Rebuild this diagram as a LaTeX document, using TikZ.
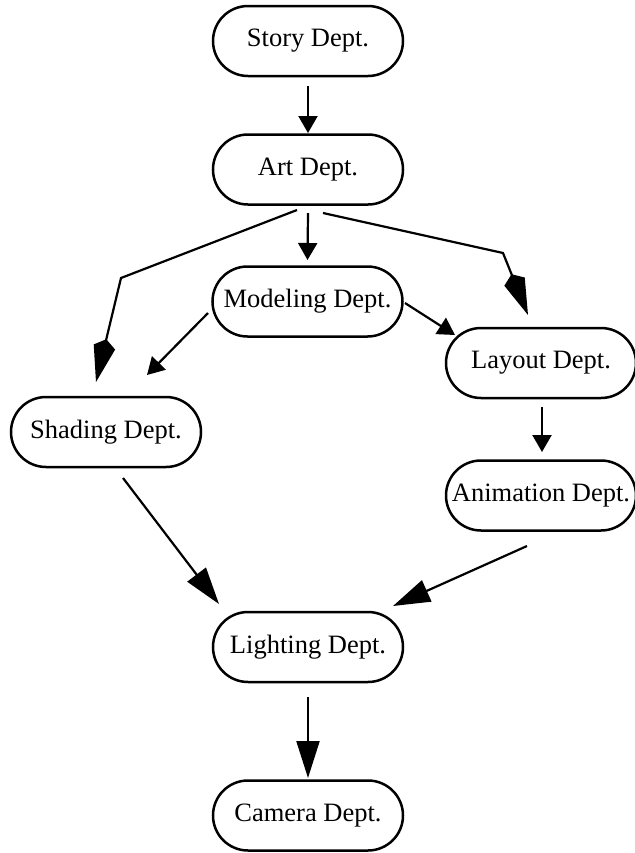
\documentclass[tikz,border=0pt]{standalone}
\usepackage{fontspec}
\setmainfont{Liberation Serif}
\usetikzlibrary{arrows.meta,calc}
\begin{document}
\begin{tikzpicture}[x=0.5pt,y=-0.5pt,
  dept/.style={draw,line width=1.25pt,rounded corners=17.5pt,minimum width=95pt,minimum height=35pt,inner sep=0pt,font=\fontsize{13.25}{15}\selectfont},
  conn/.style={line width=1.1pt},
  smallarrow/.style={conn,-{Triangle[length=8.5pt,width=9.5pt]}},
  bigarrow/.style={conn,-{Triangle[length=18.5pt,width=11.5pt]}},
  kitearrow/.style={conn,-{Kite[length=22pt,width=11pt,inset=4pt]}}]
\useasboundingbox (0,0) rectangle (635,853);
\node[dept] (story) at (308,41) {Story Dept.};
\node[dept] (art) at (308,169.5) {Art Dept.};
\node[dept] (modeling) at (307.5,301.5) {Modeling Dept.};
\node[dept] (layout) at (541,363) {Layout Dept.};
\node[dept] (shading) at (106,432) {Shading Dept.};
\node[dept] (animation) at (541,495.5) {Animation Dept.};
\node[dept] (lighting) at (308,647) {Lighting Dept.};
\node[dept] (camera) at (308,815.5) {Camera Dept.};
\coordinate (bendL) at (121,278);
\coordinate (bendR) at (503,253);
\draw[smallarrow] ($(story)+(0,45)$) -- ($(art)+(0,-36.5)$);
\draw[smallarrow] ($(art)+(0,43.5)$) -- ($(modeling)+(0,-41.5)$);
\draw[kitearrow] ($(art)+(-11,40.5)$) -- (bendL) -- ($(shading)+(-10,-50)$);
\draw[kitearrow] ($(art)+(15,43.5)$) -- (bendR) -- ($(layout)+(-13,-48)$);
\draw[smallarrow] ($(modeling)+(-99.5,11.5)$) -- ($(shading)+(41,-57)$);
\draw[smallarrow] ($(modeling)+(97.5,1.5)$) -- ($(layout)+(-86,-28)$);
\draw[smallarrow] ($(layout)+(1,44)$) -- ($(animation)+(1,-43.5)$);
\draw[bigarrow] ($(shading)+(17,46)$) -- ($(lighting)+(-89,-43)$);
\draw[bigarrow] ($(animation)+(-14,50.5)$) -- ($(lighting)+(85,-41)$);
\draw[bigarrow] ($(lighting)+(0,50)$) -- ($(camera)+(0,-37.5)$);
\end{tikzpicture}
\end{document}
